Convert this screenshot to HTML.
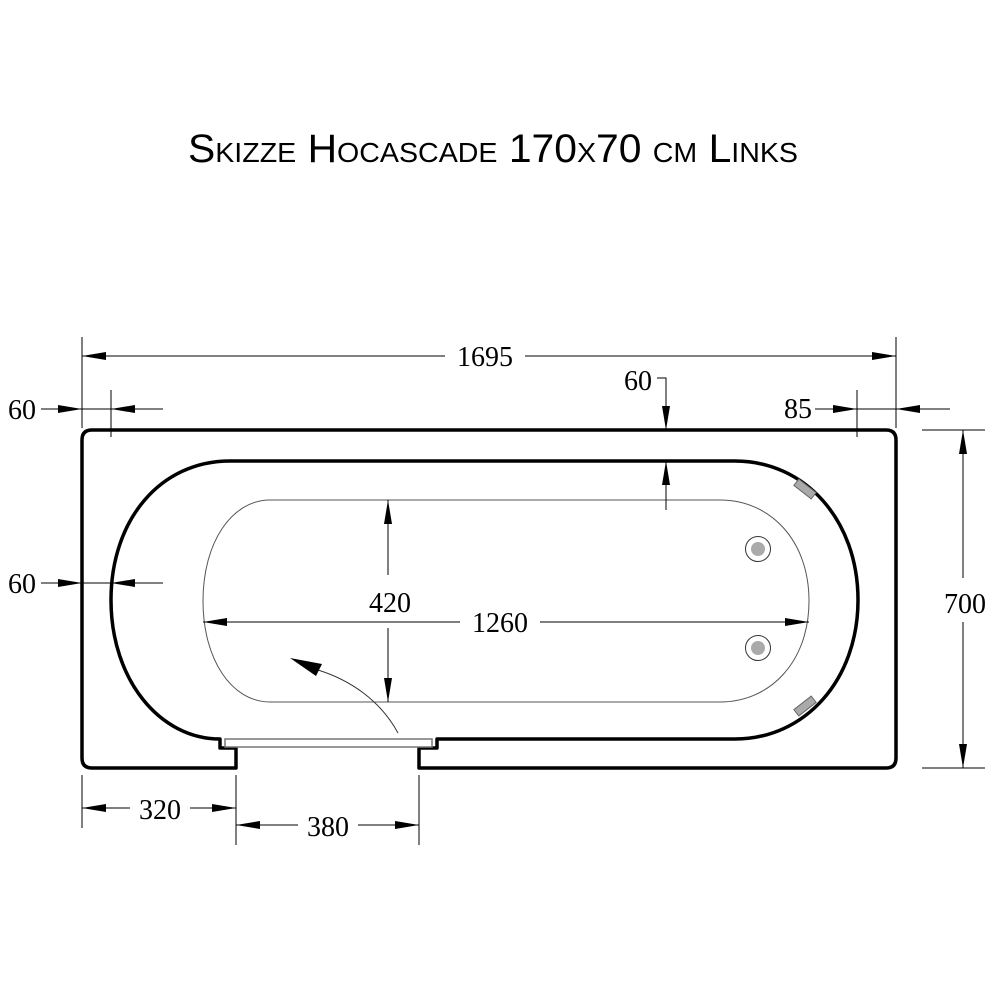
<!DOCTYPE html>
<html><head><meta charset="utf-8"><style>
html,body{margin:0;padding:0;background:#fff;}
svg{display:block;}
</style></head><body>
<svg width="1000" height="1000" viewBox="0 0 1000 1000" xmlns="http://www.w3.org/2000/svg">
<defs>
<marker id="a" viewBox="0 0 24 8" refX="24" refY="4" markerWidth="24" markerHeight="8" markerUnits="userSpaceOnUse" orient="auto">
<path d="M0,0 L24,4 L0,8 Z" fill="#000"/>
</marker>
</defs>
<text x="493" y="162" font-family="Liberation Sans, sans-serif" font-size="40" style="font-variant:small-caps" text-anchor="middle" textLength="610" lengthAdjust="spacingAndGlyphs">Skizze Hocascade 170x70 cm Links</text>

<g fill="none" stroke="#000">
<path d="M92,430 L886,430 Q896,430 896,440 L896,758 Q896,768 886,768 L419,768 L419,748 L437,748 L437,739 L735,739 C805,739 858,680 858,600 C858,520 805,461 735,461 L230,461 C160,461 111,520 111,600 C111,680 160,739 220,739 L220,748 L236,748 L236,768 L92,768 Q82,768 82,758 L82,440 Q82,430 92,430 Z" stroke-width="3.5" stroke-linejoin="round"/>
<rect x="225" y="739" width="207" height="8" stroke="#777" stroke-width="1.5" fill="#fff"/>
<path d="M270,500 L720,500 C770,500 809,540 809,601 C809,662 770,702 720,702 L270,702 C232,702 203,660 203,601 C203,542 232,500 270,500 Z" stroke="#555" stroke-width="1"/>
</g>
<circle cx="758" cy="549" r="12.5" fill="#fff" stroke="#333" stroke-width="1"/>
<circle cx="758" cy="549" r="7" fill="#aaa"/>
<circle cx="758" cy="648" r="12.5" fill="#fff" stroke="#333" stroke-width="1"/>
<circle cx="758" cy="648" r="7" fill="#aaa"/>
<rect x="794" y="485" width="22" height="8" fill="#aaa" stroke="#666" transform="rotate(38 805 489)"/>
<rect x="794" y="702" width="22" height="8" fill="#aaa" stroke="#666" transform="rotate(-38 805 706)"/>

<g stroke="#000" stroke-width="1" fill="none">
<line x1="82" y1="337" x2="82" y2="428"/>
<line x1="896" y1="337" x2="896" y2="428"/>
<line x1="445" y1="356" x2="82" y2="356" marker-end="url(#a)"/>
<line x1="525" y1="356" x2="896" y2="356" marker-end="url(#a)"/>
<line x1="111" y1="390" x2="111" y2="437"/>
<line x1="41" y1="409" x2="82" y2="409" marker-end="url(#a)"/>
<line x1="82" y1="409" x2="111" y2="409"/>
<line x1="163" y1="409" x2="111" y2="409" marker-end="url(#a)"/>
<line x1="41" y1="583" x2="82" y2="583" marker-end="url(#a)"/>
<line x1="82" y1="583" x2="111" y2="583"/>
<line x1="163" y1="583" x2="111" y2="583" marker-end="url(#a)"/>
<polyline points="657,378 666,378 666,430" marker-end="url(#a)"/>
<line x1="666" y1="510" x2="666" y2="461" marker-end="url(#a)"/>
<line x1="857" y1="390" x2="857" y2="437"/>
<line x1="815" y1="409" x2="857" y2="409" marker-end="url(#a)"/>
<line x1="857" y1="409" x2="896" y2="409"/>
<line x1="950" y1="409" x2="896" y2="409" marker-end="url(#a)"/>
<line x1="922" y1="430" x2="985" y2="430"/>
<line x1="922" y1="768" x2="985" y2="768"/>
<line x1="963" y1="578" x2="963" y2="430" marker-end="url(#a)"/>
<line x1="963" y1="622" x2="963" y2="768" marker-end="url(#a)"/>
<line x1="388" y1="575" x2="388" y2="500" marker-end="url(#a)"/>
<line x1="388" y1="628" x2="388" y2="702" marker-end="url(#a)"/>
<line x1="460" y1="622" x2="203" y2="622" marker-end="url(#a)"/>
<line x1="540" y1="622" x2="809" y2="622" marker-end="url(#a)"/>
<line x1="82" y1="775" x2="82" y2="828"/>
<line x1="236" y1="775" x2="236" y2="845"/>
<line x1="419" y1="775" x2="419" y2="845"/>
<line x1="130" y1="808" x2="82" y2="808" marker-end="url(#a)"/>
<line x1="190" y1="808" x2="236" y2="808" marker-end="url(#a)"/>
<line x1="298" y1="825" x2="236" y2="825" marker-end="url(#a)"/>
<line x1="358" y1="825" x2="419" y2="825" marker-end="url(#a)"/>
<path d="M398,733 C380,700 350,680 318,670" stroke="#333"/>
<path d="M290,658 L322,664 L316,676 Z" fill="#000" stroke="none"/>
</g>

<g font-family="Liberation Serif, serif" font-size="28" fill="#000" text-anchor="middle">
<text x="485" y="366">1695</text>
<text x="22" y="419">60</text>
<text x="22" y="593">60</text>
<text x="638" y="390">60</text>
<text x="798" y="418">85</text>
<text x="965" y="613">700</text>
<text x="390" y="612">420</text>
<text x="500" y="632">1260</text>
<text x="160" y="819">320</text>
<text x="328" y="836">380</text>
</g>
</svg>
</body></html>
